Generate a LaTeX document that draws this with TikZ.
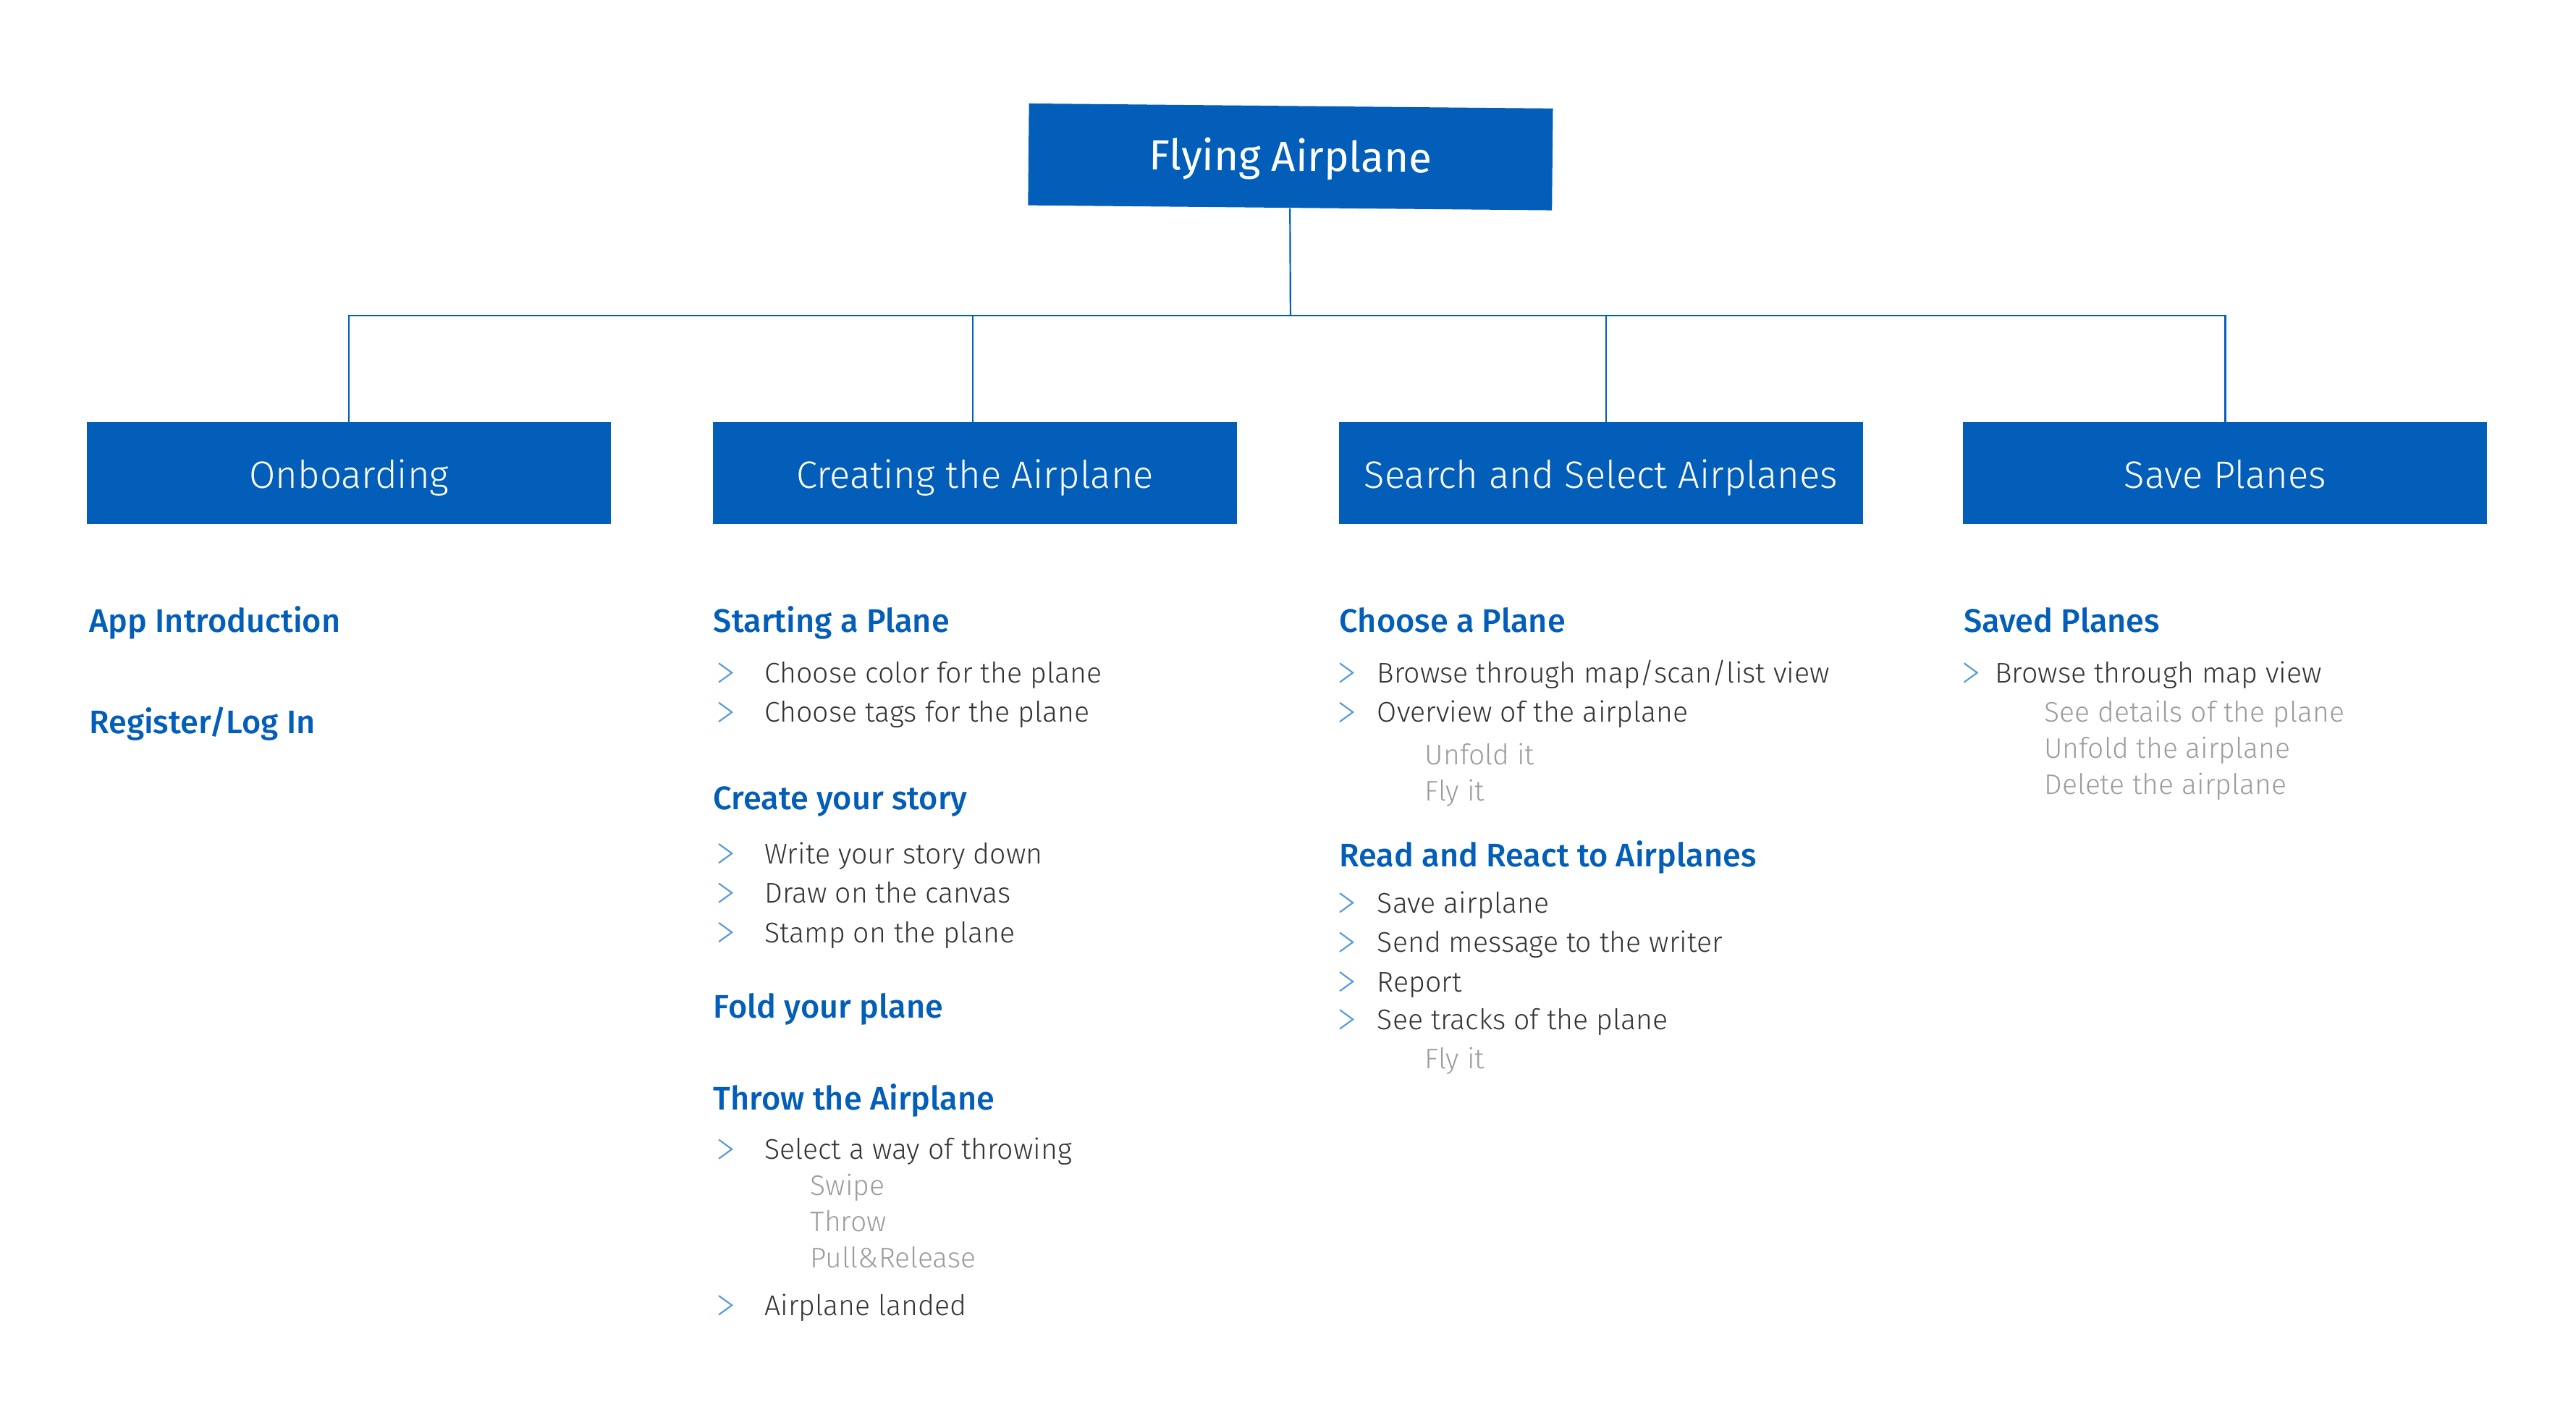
\documentclass[tikz,border=0pt]{standalone}
\usepackage{fontspec}
\setmainfont{Fira Sans}
\newfontfamily\lightfont{Fira Sans Light}
\newfontfamily\midfont{Fira Sans Medium}
\usetikzlibrary{calc}
\definecolor{brand}{HTML}{025EB9}
\definecolor{chevc}{HTML}{5B9BDA}
\definecolor{bodyc}{HTML}{333333}
\definecolor{faint}{HTML}{9C9C9C}
\tikzset{
  topbox/.style={fill=brand, text=white, font=\fontsize{14.6}{17}\selectfont,
    minimum width=6.38cm, minimum height=1.24cm, inner sep=0pt,
    text height=12.9pt, text depth=3pt},
  box/.style={fill=brand, text=white, font=\lightfont\fontsize{13.2}{15}\selectfont,
    minimum width=6.38cm, minimum height=1.24cm, inner sep=0pt,
    text height=13pt, text depth=2.6pt},
  wire/.style={draw=brand, line width=0.55pt},
  head/.style={anchor=mid west, inner sep=0pt, text=brand,
    font=\midfont\fontsize{11.3}{13}\selectfont},
  item/.style={anchor=mid west, inner sep=0pt, text=bodyc,
    font=\lightfont\fontsize{9.85}{12}\selectfont},
  sub/.style={anchor=mid west, inner sep=0pt, text=faint,
    font=\lightfont\fontsize{9.8}{12}\selectfont},
  chev/.pic={\draw[chevc, line width=0.55pt, line join=miter]
    (-4,-5.8) -- (4,0) -- (-4,5.8);}
}

\begin{document}
\begin{tikzpicture}[x=0.02cm, y=-0.02cm]
  \useasboundingbox (0,0) rectangle (1568,861);

  % tree
  \node[topbox, rotate=-0.55] (root) at (785.5,95.5) {Flying Airplane};
  \node[box] (onb) at (212.5,288) {Onboarding};
  \node[box] (cre) at (593.5,288) {Creating the Airplane};
  \node[box] (sea) at (974.5,288) {Search and Select Airplanes};
  \node[box] (sav) at (1354.5,288) {Save Planes};

  \coordinate (bus) at (785.5,192);
  \coordinate (seadrop) at ($(sea.north)+(3,0)$);
  \draw[wire] (root.south) -- (bus);
  \draw[wire] (onb.north) |- (bus) -| (sav.north);
  \draw[wire] ($(cre.north)+(-1.5,0)$) -- ($(cre.north |- bus)+(-1.5,0)$);
  \draw[wire] (seadrop) -- (seadrop |- bus);

  % onboarding
  \node[head] (intro) at (54,380) {App Introduction};
  \node[head] (login) at (54,442) {Register/Log In};

  % creating
  \node[head] (start) at (434,380) {Starting a Plane};
  \pic at (441.5,409.5) {chev};
  \node[item] (start1) at (465,411) {Choose color for the plane};
  \pic at (441.5,433.5) {chev};
  \node[item] (start2) at (465,435) {Choose tags for the plane};

  \node[head] (story) at (434,488) {Create your story};
  \pic at (441.5,519.5) {chev};
  \node[item] (story1) at (465,521) {Write your story down};
  \pic at (441.5,543.5) {chev};
  \node[item] (story2) at (465,545) {Draw on the canvas};
  \pic at (441.5,567.5) {chev};
  \node[item] (story3) at (465,569) {Stamp on the plane};

  \node[head] (fold) at (434,615) {Fold your plane};

  \node[head] (throw) at (434,671) {Throw the Airplane};
  \pic at (441.5,699.5) {chev};
  \node[item] (throw1) at (465,701) {Select a way of throwing};
  \node[sub] (swipe) at (493,723) {Swipe};
  \node[sub] (toss) at (493,745) {Throw};
  \node[sub] (pull) at (493,767) {Pull\&Release};
  \pic at (441.5,794.5) {chev};
  \node[item] (landed) at (465,796) {Airplane landed};

  % search
  \node[head] (choose) at (815,380) {Choose a Plane};
  \pic at (819.5,409.5) {chev};
  \node[item] (choose1) at (838,411) {Browse through map/scan/list view};
  \pic at (819.5,433.5) {chev};
  \node[item] (choose2) at (838,435) {Overview of the airplane};
  \node[sub] (unfold) at (867,461) {Unfold it};
  \node[sub] (fly) at (867,483) {Fly it};

  \node[head] (react) at (815,523) {Read and React to Airplanes};
  \pic at (819.5,549.5) {chev};
  \node[item] (react1) at (838,551) {Save airplane};
  \pic at (819.5,573.5) {chev};
  \node[item] (react2) at (838,575) {Send message to the writer};
  \pic at (819.5,597.5) {chev};
  \node[item] (react3) at (838,599) {Report};
  \pic at (819.5,620.5) {chev};
  \node[item] (react4) at (838,622) {See tracks of the plane};
  \node[sub] (flyagain) at (867,646) {Fly it};

  % save
  \node[head] (saved) at (1195,380) {Saved Planes};
  \pic at (1199.5,409.5) {chev};
  \node[item] (saved1) at (1214,411) {Browse through map view};
  \node[sub] (details) at (1244,435) {See details of the plane};
  \node[sub] (unfoldsv) at (1244,457) {Unfold the airplane};
  \node[sub] (delete) at (1244,479) {Delete the airplane};
\end{tikzpicture}
\end{document}
